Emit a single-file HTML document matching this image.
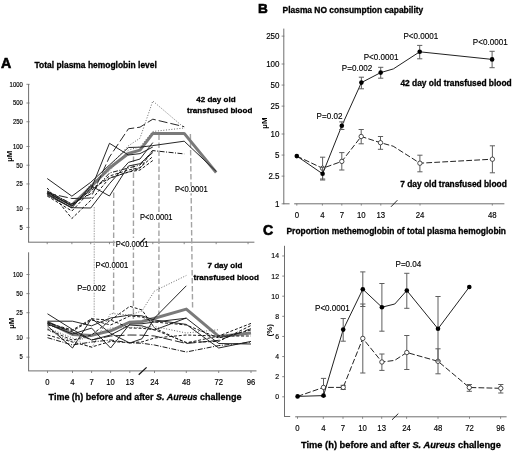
<!DOCTYPE html>
<html><head><meta charset="utf-8"><style>
html,body{margin:0;padding:0;background:#fff;}
svg{display:block;filter:blur(0.35px);}
text{font-family:"Liberation Sans",sans-serif;}
</style></head><body>
<svg width="520" height="453" viewBox="0 0 520 453">
<rect width="520" height="453" fill="#fff"/>
<text x="0.90" y="67.70" font-size="14.2" text-anchor="start" font-weight="bold" fill="#000"  stroke="#000" stroke-width="0.6">A</text>
<text x="34.60" y="67.60" font-size="8.45" text-anchor="start" font-weight="bold" fill="#000"  stroke="#000" stroke-width="0.3">Total plasma hemoglobin level</text>
<line x1="28.60" y1="84.00" x2="28.60" y2="242.20" stroke="#6e6e6e" stroke-width="1.0" />
<line x1="26.40" y1="84.30" x2="29.60" y2="84.30" stroke="#6e6e6e" stroke-width="0.8" />
<text x="0" y="0" transform="translate(22.70,86.65) scale(1,1.25)" font-size="5.9" text-anchor="end" font-weight="normal" fill="#000"  stroke="#000" stroke-width="0.14">1000</text>
<line x1="26.40" y1="103.02" x2="29.60" y2="103.02" stroke="#6e6e6e" stroke-width="0.8" />
<text x="0" y="0" transform="translate(22.70,105.37) scale(1,1.25)" font-size="5.9" text-anchor="end" font-weight="normal" fill="#000"  stroke="#000" stroke-width="0.14">500</text>
<line x1="26.40" y1="121.75" x2="29.60" y2="121.75" stroke="#6e6e6e" stroke-width="0.8" />
<text x="0" y="0" transform="translate(22.70,124.10) scale(1,1.25)" font-size="5.9" text-anchor="end" font-weight="normal" fill="#000"  stroke="#000" stroke-width="0.14">250</text>
<line x1="26.40" y1="146.50" x2="29.60" y2="146.50" stroke="#6e6e6e" stroke-width="0.8" />
<text x="0" y="0" transform="translate(22.70,148.85) scale(1,1.25)" font-size="5.9" text-anchor="end" font-weight="normal" fill="#000"  stroke="#000" stroke-width="0.14">100</text>
<line x1="26.40" y1="165.22" x2="29.60" y2="165.22" stroke="#6e6e6e" stroke-width="0.8" />
<text x="0" y="0" transform="translate(22.70,167.57) scale(1,1.25)" font-size="5.9" text-anchor="end" font-weight="normal" fill="#000"  stroke="#000" stroke-width="0.14">50</text>
<line x1="26.40" y1="183.95" x2="29.60" y2="183.95" stroke="#6e6e6e" stroke-width="0.8" />
<text x="0" y="0" transform="translate(22.70,186.30) scale(1,1.25)" font-size="5.9" text-anchor="end" font-weight="normal" fill="#000"  stroke="#000" stroke-width="0.14">25</text>
<line x1="26.40" y1="208.70" x2="29.60" y2="208.70" stroke="#6e6e6e" stroke-width="0.8" />
<text x="0" y="0" transform="translate(22.70,211.05) scale(1,1.25)" font-size="5.9" text-anchor="end" font-weight="normal" fill="#000"  stroke="#000" stroke-width="0.14">10</text>
<line x1="26.40" y1="227.42" x2="29.60" y2="227.42" stroke="#6e6e6e" stroke-width="0.8" />
<text x="0" y="0" transform="translate(22.70,229.77) scale(1,1.25)" font-size="5.9" text-anchor="end" font-weight="normal" fill="#000"  stroke="#000" stroke-width="0.14">5</text>
<line x1="28.10" y1="242.20" x2="254.40" y2="242.20" stroke="#6e6e6e" stroke-width="1.0" />
<line x1="47.20" y1="242.20" x2="47.20" y2="244.20" stroke="#6e6e6e" stroke-width="0.8" />
<line x1="71.88" y1="242.20" x2="71.88" y2="244.20" stroke="#6e6e6e" stroke-width="0.8" />
<line x1="90.73" y1="242.20" x2="90.73" y2="244.20" stroke="#6e6e6e" stroke-width="0.8" />
<line x1="109.48" y1="242.20" x2="109.48" y2="244.20" stroke="#6e6e6e" stroke-width="0.8" />
<line x1="128.43" y1="242.20" x2="128.43" y2="244.20" stroke="#6e6e6e" stroke-width="0.8" />
<line x1="152.81" y1="242.20" x2="152.81" y2="244.20" stroke="#6e6e6e" stroke-width="0.8" />
<line x1="184.20" y1="242.20" x2="184.20" y2="244.20" stroke="#6e6e6e" stroke-width="0.8" />
<line x1="216.17" y1="242.20" x2="216.17" y2="244.20" stroke="#6e6e6e" stroke-width="0.8" />
<line x1="248.05" y1="242.20" x2="248.05" y2="244.20" stroke="#6e6e6e" stroke-width="0.8" />
<line x1="28.60" y1="252.30" x2="28.60" y2="370.90" stroke="#6e6e6e" stroke-width="1.0" />
<line x1="26.40" y1="274.50" x2="29.60" y2="274.50" stroke="#6e6e6e" stroke-width="0.8" />
<text x="0" y="0" transform="translate(22.70,276.85) scale(1,1.25)" font-size="5.9" text-anchor="end" font-weight="normal" fill="#000"  stroke="#000" stroke-width="0.14">100</text>
<line x1="26.40" y1="293.62" x2="29.60" y2="293.62" stroke="#6e6e6e" stroke-width="0.8" />
<text x="0" y="0" transform="translate(22.70,295.97) scale(1,1.25)" font-size="5.9" text-anchor="end" font-weight="normal" fill="#000"  stroke="#000" stroke-width="0.14">50</text>
<line x1="26.40" y1="312.73" x2="29.60" y2="312.73" stroke="#6e6e6e" stroke-width="0.8" />
<text x="0" y="0" transform="translate(22.70,315.08) scale(1,1.25)" font-size="5.9" text-anchor="end" font-weight="normal" fill="#000"  stroke="#000" stroke-width="0.14">25</text>
<line x1="26.40" y1="338.00" x2="29.60" y2="338.00" stroke="#6e6e6e" stroke-width="0.8" />
<text x="0" y="0" transform="translate(22.70,340.35) scale(1,1.25)" font-size="5.9" text-anchor="end" font-weight="normal" fill="#000"  stroke="#000" stroke-width="0.14">10</text>
<line x1="26.40" y1="357.12" x2="29.60" y2="357.12" stroke="#6e6e6e" stroke-width="0.8" />
<text x="0" y="0" transform="translate(22.70,359.47) scale(1,1.25)" font-size="5.9" text-anchor="end" font-weight="normal" fill="#000"  stroke="#000" stroke-width="0.14">5</text>
<line x1="28.10" y1="370.90" x2="256.50" y2="370.90" stroke="#6e6e6e" stroke-width="1.0" />
<line x1="47.50" y1="370.90" x2="47.50" y2="373.00" stroke="#6e6e6e" stroke-width="0.8" />
<line x1="72.50" y1="370.90" x2="72.50" y2="373.00" stroke="#6e6e6e" stroke-width="0.8" />
<line x1="91.60" y1="370.90" x2="91.60" y2="373.00" stroke="#6e6e6e" stroke-width="0.8" />
<line x1="110.60" y1="370.90" x2="110.60" y2="373.00" stroke="#6e6e6e" stroke-width="0.8" />
<line x1="129.80" y1="370.90" x2="129.80" y2="373.00" stroke="#6e6e6e" stroke-width="0.8" />
<line x1="154.50" y1="370.90" x2="154.50" y2="373.00" stroke="#6e6e6e" stroke-width="0.8" />
<line x1="186.30" y1="370.90" x2="186.30" y2="373.00" stroke="#6e6e6e" stroke-width="0.8" />
<line x1="218.70" y1="370.90" x2="218.70" y2="373.00" stroke="#6e6e6e" stroke-width="0.8" />
<line x1="251.00" y1="370.90" x2="251.00" y2="373.00" stroke="#6e6e6e" stroke-width="0.8" />
<text x="0" y="0" transform="translate(47.50,384.80) scale(1,1.06)" font-size="7.7" text-anchor="middle" font-weight="normal" fill="#000"  stroke="#000" stroke-width="0.14">0</text>
<text x="0" y="0" transform="translate(72.50,384.80) scale(1,1.06)" font-size="7.7" text-anchor="middle" font-weight="normal" fill="#000"  stroke="#000" stroke-width="0.14">4</text>
<text x="0" y="0" transform="translate(91.60,384.80) scale(1,1.06)" font-size="7.7" text-anchor="middle" font-weight="normal" fill="#000"  stroke="#000" stroke-width="0.14">7</text>
<text x="0" y="0" transform="translate(110.60,384.80) scale(1,1.06)" font-size="7.7" text-anchor="middle" font-weight="normal" fill="#000"  stroke="#000" stroke-width="0.14">10</text>
<text x="0" y="0" transform="translate(129.80,384.80) scale(1,1.06)" font-size="7.7" text-anchor="middle" font-weight="normal" fill="#000"  stroke="#000" stroke-width="0.14">13</text>
<text x="0" y="0" transform="translate(154.50,384.80) scale(1,1.06)" font-size="7.7" text-anchor="middle" font-weight="normal" fill="#000"  stroke="#000" stroke-width="0.14">24</text>
<text x="0" y="0" transform="translate(186.30,384.80) scale(1,1.06)" font-size="7.7" text-anchor="middle" font-weight="normal" fill="#000"  stroke="#000" stroke-width="0.14">48</text>
<text x="0" y="0" transform="translate(218.70,384.80) scale(1,1.06)" font-size="7.7" text-anchor="middle" font-weight="normal" fill="#000"  stroke="#000" stroke-width="0.14">72</text>
<text x="0" y="0" transform="translate(251.00,384.80) scale(1,1.06)" font-size="7.7" text-anchor="middle" font-weight="normal" fill="#000"  stroke="#000" stroke-width="0.14">96</text>
<line x1="138.70" y1="374.80" x2="146.60" y2="367.40" stroke="#111" stroke-width="1.2" />
<text x="0" y="0" font-size="7.8" text-anchor="middle" font-weight="bold" fill="#000" transform="translate(12.20,156.20) rotate(-90)">&#181;M</text>
<text x="0" y="0" font-size="7.8" text-anchor="middle" font-weight="bold" fill="#000" transform="translate(14.20,323.20) rotate(-90)">&#181;M</text>
<text x="48.6" y="400.2" font-size="8.98" font-weight="bold" fill="#000" stroke="#000" stroke-width="0.3">Time (h) before and after <tspan font-style="italic">S. Aureus</tspan> challenge</text>
<line x1="94.30" y1="207.00" x2="94.20" y2="317.00" stroke="#b4b4b4" stroke-width="1.2" stroke-dasharray="1.6,1.0" />
<line x1="113.70" y1="192.60" x2="113.60" y2="313.40" stroke="#a3a3a3" stroke-width="1.4" stroke-dasharray="5.5,2.5" />
<line x1="133.50" y1="156.50" x2="133.40" y2="319.00" stroke="#a3a3a3" stroke-width="1.4" stroke-dasharray="5.5,2.5" />
<line x1="159.00" y1="134.40" x2="158.90" y2="315.00" stroke="#a3a3a3" stroke-width="1.4" stroke-dasharray="5.5,2.5" />
<line x1="190.40" y1="134.00" x2="192.60" y2="309.00" stroke="#a3a3a3" stroke-width="1.4" stroke-dasharray="5.5,2.5" />
<rect x="115.4" y="238.0" width="28.2" height="9.4" fill="#fff"/>
<rect x="76.6" y="284.3" width="29.4" height="7.6" fill="#fff"/>
<rect x="95.0" y="261.8" width="34.0" height="7.0" fill="#fff"/>
<rect x="139.3" y="214.2" width="33.6" height="7.0" fill="#fff"/>
<rect x="174.5" y="186.3" width="33.6" height="7.0" fill="#fff"/>
<text x="0" y="0" transform="translate(77.20,290.70) scale(1,1.14)" font-size="7.6" text-anchor="start" font-weight="normal" fill="#000"  stroke="#000" stroke-width="0.14">P=0.002</text>
<text x="0" y="0" transform="translate(95.60,267.90) scale(1,1.14)" font-size="7.6" text-anchor="start" font-weight="normal" fill="#000"  stroke="#000" stroke-width="0.14">P&lt;0.0001</text>
<text x="0" y="0" transform="translate(115.80,246.60) scale(1,1.14)" font-size="7.6" text-anchor="start" font-weight="normal" fill="#000"  stroke="#000" stroke-width="0.14">P&lt;0.0001</text>
<text x="0" y="0" transform="translate(139.90,220.20) scale(1,1.14)" font-size="7.6" text-anchor="start" font-weight="normal" fill="#000"  stroke="#000" stroke-width="0.14">P&lt;0.0001</text>
<line x1="139.60" y1="243.60" x2="145.10" y2="238.10" stroke="#111" stroke-width="1.2" />
<text x="0" y="0" transform="translate(175.00,192.40) scale(1,1.14)" font-size="7.6" text-anchor="start" font-weight="normal" fill="#000"  stroke="#000" stroke-width="0.14">P&lt;0.0001</text>
<text x="215.90" y="101.50" font-size="8.05" text-anchor="middle" font-weight="bold" fill="#000"  stroke="#000" stroke-width="0.3">42 day old</text>
<text x="219.70" y="113.10" font-size="8.05" text-anchor="middle" font-weight="bold" fill="#000"  stroke="#000" stroke-width="0.3">transfused blood</text>
<text x="224.90" y="268.10" font-size="8.05" text-anchor="middle" font-weight="bold" fill="#000"  stroke="#000" stroke-width="0.3">7 day old</text>
<text x="226.20" y="279.90" font-size="8.05" text-anchor="middle" font-weight="bold" fill="#000"  stroke="#000" stroke-width="0.3">transfused blood</text>
<polyline points="47.20,192.50 71.88,205.00 90.73,187.00 109.48,168.00 128.43,153.50 140.00,150.08 152.81,133.40 184.20,133.40 216.17,172.50" fill="none" stroke="#7a7a7a" stroke-width="3.0" stroke-linejoin="round" />
<polyline points="47.20,178.50 71.88,196.20 90.73,182.30 109.48,165.00 128.43,147.50 140.00,147.18 152.81,145.60 184.20,141.20 216.17,171.40" fill="none" stroke="#1a1a1a" stroke-width="0.95" stroke-linejoin="round" />
<polyline points="47.20,188.00 71.88,218.50 90.73,200.40 109.48,178.00 128.43,172.00 140.00,170.04 152.81,160.50" fill="none" stroke="#1a1a1a" stroke-width="1.0" stroke-dasharray="3,1.8" stroke-linejoin="round" />
<polyline points="47.20,193.00 71.88,198.50 90.73,198.00 109.48,157.00 128.43,128.80 140.00,127.17 152.81,119.20 184.20,126.70" fill="none" stroke="#1a1a1a" stroke-width="0.95" stroke-dasharray="9,3" stroke-linejoin="round" />
<polyline points="47.20,192.00 71.88,206.00 90.73,186.60 109.48,166.00 128.43,145.80 140.00,138.18 152.81,101.00 184.20,127.70" fill="none" stroke="#6a6a6a" stroke-width="1.0" stroke-dasharray="1,1.7" stroke-linejoin="round" />
<polyline points="47.20,194.00 71.88,207.00 90.73,184.40 109.48,171.00 128.43,150.00 140.00,146.85 152.81,131.50 184.20,128.00" fill="none" stroke="#6a6a6a" stroke-width="1.0" stroke-dasharray="1,1.7" stroke-linejoin="round" />
<polyline points="47.20,191.00 71.88,204.00 90.73,193.80 109.48,173.00 128.43,168.00 140.00,165.04 152.81,150.60 184.20,153.90" fill="none" stroke="#1a1a1a" stroke-width="1.0" stroke-dasharray="5,1.5,1,1.5" stroke-linejoin="round" />
<polyline points="47.20,192.00 71.88,206.00 90.73,190.00 109.48,143.30 128.43,155.00 140.00,153.64 152.81,147.00" fill="none" stroke="#1a1a1a" stroke-width="0.95" stroke-linejoin="round" />
<polyline points="47.20,195.00 71.88,208.00 90.73,185.60 109.48,196.00 128.43,166.00 140.00,163.71 152.81,152.50" fill="none" stroke="#1a1a1a" stroke-width="0.95" stroke-linejoin="round" />
<polyline points="47.20,194.00 71.88,207.70 90.73,208.00 109.48,183.70 128.43,162.40 140.00,159.03 152.81,142.60" fill="none" stroke="#1a1a1a" stroke-width="0.95" stroke-linejoin="round" />
<polyline points="47.20,196.00 71.88,211.00 90.73,191.00 109.48,176.00 128.43,170.00 140.00,167.71 152.81,156.50" fill="none" stroke="#1a1a1a" stroke-width="1.0" stroke-dasharray="3,1.8" stroke-linejoin="round" />
<polyline points="47.20,193.00 71.88,205.00 90.73,188.80 109.48,178.40 128.43,172.00 140.00,168.26 152.81,150.00" fill="none" stroke="#1a1a1a" stroke-width="1.0" stroke-dasharray="3,1.8" stroke-linejoin="round" />
<polyline points="47.50,322.40 72.50,334.40 91.60,335.40 110.60,330.80 129.80,322.20 142.00,321.52 154.50,318.20 186.30,309.10 218.70,336.40 251.00,333.00" fill="none" stroke="#7a7a7a" stroke-width="3.0" stroke-linejoin="round" />
<polyline points="47.50,313.80 72.50,329.50 91.60,340.00 110.60,335.00 129.80,325.00 142.00,325.85 154.50,330.00 186.30,318.00" fill="none" stroke="#1a1a1a" stroke-width="0.95" stroke-linejoin="round" />
<polyline points="47.50,321.20 72.50,321.20 91.60,325.80 110.60,318.00 129.80,315.00 142.00,315.85 154.50,320.00 186.30,324.40 218.70,348.00 251.00,341.40" fill="none" stroke="#1a1a1a" stroke-width="0.95" stroke-linejoin="round" />
<polyline points="47.50,323.00 72.50,330.00 91.60,318.80 110.60,320.20 129.80,306.30 142.00,309.99 154.50,328.00 186.30,343.00 218.70,336.00 251.00,323.40" fill="none" stroke="#1a1a1a" stroke-width="1.0" stroke-dasharray="3,1.8" stroke-linejoin="round" />
<polyline points="47.50,326.00 72.50,348.00 91.60,318.40 110.60,333.40 129.80,343.00 142.00,338.75 154.50,318.00 186.30,285.80" fill="none" stroke="#1a1a1a" stroke-width="0.95" stroke-linejoin="round" />
<polyline points="47.50,328.00 72.50,338.00 91.60,348.00 110.60,313.50 129.80,315.00 142.00,310.92 154.50,291.00 186.30,275.50" fill="none" stroke="#6a6a6a" stroke-width="1.0" stroke-dasharray="1,1.7" stroke-linejoin="round" />
<polyline points="47.50,329.30 72.50,340.20 91.60,335.00 110.60,320.00 129.80,328.00 142.00,328.29 154.50,329.70 186.30,342.40 218.70,341.40 251.00,325.50" fill="none" stroke="#1a1a1a" stroke-width="1.0" stroke-dasharray="3,1.8" stroke-linejoin="round" />
<polyline points="47.50,337.70 72.50,345.00 91.60,342.00 110.60,340.00 129.80,342.90 142.00,343.26 154.50,345.00 186.30,352.00 218.70,345.60 251.00,342.40" fill="none" stroke="#1a1a1a" stroke-width="1.0" stroke-dasharray="5,1.5,1,1.5" stroke-linejoin="round" />
<polyline points="47.50,322.00 72.50,332.00 91.60,340.00 110.60,336.00 129.80,335.00 142.00,335.17 154.50,336.00 186.30,343.50 218.70,340.30 251.00,328.70" fill="none" stroke="#1a1a1a" stroke-width="0.95" stroke-dasharray="9,3" stroke-linejoin="round" />
<polyline points="47.50,335.00 72.50,342.00 91.60,347.00 110.60,341.40 129.80,342.70 142.00,341.90 154.50,338.00 186.30,335.00 218.70,336.00 251.00,336.00" fill="none" stroke="#1a1a1a" stroke-width="1.0" stroke-dasharray="3,1.8" stroke-linejoin="round" />
<polyline points="47.50,330.00 72.50,342.00 91.60,336.00 110.60,328.00 129.80,327.50 142.00,327.33 154.50,326.50 186.30,333.00 218.70,329.70" fill="none" stroke="#6a6a6a" stroke-width="1.0" stroke-dasharray="1,1.7" stroke-linejoin="round" />
<polyline points="47.50,324.00 72.50,334.00 91.60,328.10 110.60,348.00 129.80,324.10 142.00,323.74 154.50,322.00 186.30,318.20 218.70,343.50 251.00,344.00" fill="none" stroke="#1a1a1a" stroke-width="0.95" stroke-linejoin="round" />
<polyline points="47.50,325.00 72.50,331.00 91.60,320.00 110.60,325.00 129.80,316.00 142.00,317.02 154.50,322.00 186.30,325.00 218.70,338.00 251.00,330.00" fill="none" stroke="#1a1a1a" stroke-width="1.0" stroke-dasharray="3,1.8" stroke-linejoin="round" />
<text x="258.00" y="12.60" font-size="13.6" text-anchor="start" font-weight="bold" fill="#000"  stroke="#000" stroke-width="0.6">B</text>
<text x="282.60" y="12.80" font-size="8.42" text-anchor="start" font-weight="bold" fill="#000"  stroke="#000" stroke-width="0.3">Plasma NO consumption capability</text>
<line x1="283.80" y1="28.60" x2="283.80" y2="203.80" stroke="#6e6e6e" stroke-width="1.0" />
<line x1="283.30" y1="203.80" x2="289.60" y2="203.80" stroke="#6e6e6e" stroke-width="1.0" />
<line x1="294.20" y1="203.80" x2="504.40" y2="203.80" stroke="#6e6e6e" stroke-width="1.0" />
<line x1="281.60" y1="36.14" x2="284.30" y2="36.14" stroke="#6e6e6e" stroke-width="0.8" />
<text x="0" y="0" transform="translate(279.50,38.94) scale(1,1.12)" font-size="8.0" text-anchor="end" font-weight="normal" fill="#000"  stroke="#000" stroke-width="0.14">250</text>
<line x1="281.60" y1="64.00" x2="284.30" y2="64.00" stroke="#6e6e6e" stroke-width="0.8" />
<text x="0" y="0" transform="translate(279.50,66.80) scale(1,1.12)" font-size="8.0" text-anchor="end" font-weight="normal" fill="#000"  stroke="#000" stroke-width="0.14">100</text>
<line x1="281.60" y1="85.07" x2="284.30" y2="85.07" stroke="#6e6e6e" stroke-width="0.8" />
<text x="0" y="0" transform="translate(279.50,87.87) scale(1,1.12)" font-size="8.0" text-anchor="end" font-weight="normal" fill="#000"  stroke="#000" stroke-width="0.14">50</text>
<line x1="281.60" y1="106.14" x2="284.30" y2="106.14" stroke="#6e6e6e" stroke-width="0.8" />
<text x="0" y="0" transform="translate(279.50,108.94) scale(1,1.12)" font-size="8.0" text-anchor="end" font-weight="normal" fill="#000"  stroke="#000" stroke-width="0.14">25</text>
<line x1="281.60" y1="134.00" x2="284.30" y2="134.00" stroke="#6e6e6e" stroke-width="0.8" />
<text x="0" y="0" transform="translate(279.50,136.80) scale(1,1.12)" font-size="8.0" text-anchor="end" font-weight="normal" fill="#000"  stroke="#000" stroke-width="0.14">10</text>
<line x1="281.60" y1="155.07" x2="284.30" y2="155.07" stroke="#6e6e6e" stroke-width="0.8" />
<text x="0" y="0" transform="translate(279.50,157.87) scale(1,1.12)" font-size="8.0" text-anchor="end" font-weight="normal" fill="#000"  stroke="#000" stroke-width="0.14">5</text>
<line x1="281.60" y1="176.14" x2="284.30" y2="176.14" stroke="#6e6e6e" stroke-width="0.8" />
<text x="0" y="0" transform="translate(279.50,178.94) scale(1,1.12)" font-size="8.0" text-anchor="end" font-weight="normal" fill="#000"  stroke="#000" stroke-width="0.14">2.5</text>
<line x1="281.60" y1="203.80" x2="284.30" y2="203.80" stroke="#6e6e6e" stroke-width="0.8" />
<text x="0" y="0" transform="translate(279.50,206.60) scale(1,1.12)" font-size="8.0" text-anchor="end" font-weight="normal" fill="#000"  stroke="#000" stroke-width="0.14">1</text>
<line x1="296.80" y1="203.80" x2="296.80" y2="205.60" stroke="#6e6e6e" stroke-width="0.8" />
<text x="0" y="0" transform="translate(296.80,217.60) scale(1,1.12)" font-size="7.8" text-anchor="middle" font-weight="normal" fill="#000"  stroke="#000" stroke-width="0.14">0</text>
<line x1="322.40" y1="203.80" x2="322.40" y2="205.60" stroke="#6e6e6e" stroke-width="0.8" />
<text x="0" y="0" transform="translate(322.40,217.60) scale(1,1.12)" font-size="7.8" text-anchor="middle" font-weight="normal" fill="#000"  stroke="#000" stroke-width="0.14">4</text>
<line x1="341.80" y1="203.80" x2="341.80" y2="205.60" stroke="#6e6e6e" stroke-width="0.8" />
<text x="0" y="0" transform="translate(341.80,217.60) scale(1,1.12)" font-size="7.8" text-anchor="middle" font-weight="normal" fill="#000"  stroke="#000" stroke-width="0.14">7</text>
<line x1="361.30" y1="203.80" x2="361.30" y2="205.60" stroke="#6e6e6e" stroke-width="0.8" />
<text x="0" y="0" transform="translate(361.30,217.60) scale(1,1.12)" font-size="7.8" text-anchor="middle" font-weight="normal" fill="#000"  stroke="#000" stroke-width="0.14">10</text>
<line x1="380.80" y1="203.80" x2="380.80" y2="205.60" stroke="#6e6e6e" stroke-width="0.8" />
<text x="0" y="0" transform="translate(380.80,217.60) scale(1,1.12)" font-size="7.8" text-anchor="middle" font-weight="normal" fill="#000"  stroke="#000" stroke-width="0.14">13</text>
<line x1="420.00" y1="203.80" x2="420.00" y2="205.60" stroke="#6e6e6e" stroke-width="0.8" />
<text x="0" y="0" transform="translate(420.00,217.60) scale(1,1.12)" font-size="7.8" text-anchor="middle" font-weight="normal" fill="#000"  stroke="#000" stroke-width="0.14">24</text>
<line x1="492.30" y1="203.80" x2="492.30" y2="205.60" stroke="#6e6e6e" stroke-width="0.8" />
<text x="0" y="0" transform="translate(492.30,217.60) scale(1,1.12)" font-size="7.8" text-anchor="middle" font-weight="normal" fill="#000"  stroke="#000" stroke-width="0.14">48</text>
<line x1="391.00" y1="206.80" x2="397.40" y2="200.20" stroke="#111" stroke-width="0.9" />
<text x="0" y="0" font-size="8.0" text-anchor="middle" font-weight="bold" fill="#000" transform="translate(267.40,123.00) rotate(-90)">&#181;M</text>
<polyline points="296.80,156.10 322.60,168.30 341.80,161.40 361.20,136.50 380.50,142.70 393.20,146.20 419.90,163.20 492.40,159.20" fill="none" stroke="#222" stroke-width="1.0" stroke-dasharray="5.8,2.2" stroke-linejoin="round" />
<line x1="322.60" y1="157.20" x2="322.60" y2="179.00" stroke="#5e5e5e" stroke-width="1.0" />
<line x1="320.00" y1="157.20" x2="325.20" y2="157.20" stroke="#5e5e5e" stroke-width="1.0" />
<line x1="320.00" y1="179.00" x2="325.20" y2="179.00" stroke="#5e5e5e" stroke-width="1.0" />
<line x1="341.80" y1="152.60" x2="341.80" y2="170.00" stroke="#5e5e5e" stroke-width="1.0" />
<line x1="339.20" y1="152.60" x2="344.40" y2="152.60" stroke="#5e5e5e" stroke-width="1.0" />
<line x1="339.20" y1="170.00" x2="344.40" y2="170.00" stroke="#5e5e5e" stroke-width="1.0" />
<line x1="361.20" y1="129.50" x2="361.20" y2="143.80" stroke="#5e5e5e" stroke-width="1.0" />
<line x1="358.60" y1="129.50" x2="363.80" y2="129.50" stroke="#5e5e5e" stroke-width="1.0" />
<line x1="358.60" y1="143.80" x2="363.80" y2="143.80" stroke="#5e5e5e" stroke-width="1.0" />
<line x1="380.50" y1="136.50" x2="380.50" y2="149.30" stroke="#5e5e5e" stroke-width="1.0" />
<line x1="377.90" y1="136.50" x2="383.10" y2="136.50" stroke="#5e5e5e" stroke-width="1.0" />
<line x1="377.90" y1="149.30" x2="383.10" y2="149.30" stroke="#5e5e5e" stroke-width="1.0" />
<line x1="419.90" y1="155.20" x2="419.90" y2="171.80" stroke="#5e5e5e" stroke-width="1.0" />
<line x1="417.30" y1="155.20" x2="422.50" y2="155.20" stroke="#5e5e5e" stroke-width="1.0" />
<line x1="417.30" y1="171.80" x2="422.50" y2="171.80" stroke="#5e5e5e" stroke-width="1.0" />
<line x1="492.40" y1="145.80" x2="492.40" y2="172.80" stroke="#5e5e5e" stroke-width="1.0" />
<line x1="489.80" y1="145.80" x2="495.00" y2="145.80" stroke="#5e5e5e" stroke-width="1.0" />
<line x1="489.80" y1="172.80" x2="495.00" y2="172.80" stroke="#5e5e5e" stroke-width="1.0" />
<circle cx="322.60" cy="168.30" r="2.2" fill="#fff" stroke="#222" stroke-width="0.8"/>
<circle cx="341.80" cy="161.40" r="2.2" fill="#fff" stroke="#222" stroke-width="0.8"/>
<circle cx="361.20" cy="136.50" r="2.2" fill="#fff" stroke="#222" stroke-width="0.8"/>
<circle cx="380.50" cy="142.70" r="2.2" fill="#fff" stroke="#222" stroke-width="0.8"/>
<circle cx="419.90" cy="163.20" r="2.2" fill="#fff" stroke="#222" stroke-width="0.8"/>
<circle cx="492.40" cy="159.20" r="2.2" fill="#fff" stroke="#222" stroke-width="0.8"/>
<polyline points="296.80,156.10 322.60,173.80 341.80,125.80 361.40,82.60 380.70,72.60 393.40,68.90 419.70,51.80 492.10,59.40" fill="none" stroke="#222" stroke-width="1.0" stroke-linejoin="round" />
<line x1="322.60" y1="167.60" x2="322.60" y2="180.00" stroke="#5e5e5e" stroke-width="1.0" />
<line x1="320.00" y1="167.60" x2="325.20" y2="167.60" stroke="#5e5e5e" stroke-width="1.0" />
<line x1="320.00" y1="180.00" x2="325.20" y2="180.00" stroke="#5e5e5e" stroke-width="1.0" />
<line x1="341.80" y1="121.90" x2="341.80" y2="129.50" stroke="#5e5e5e" stroke-width="1.0" />
<line x1="339.20" y1="121.90" x2="344.40" y2="121.90" stroke="#5e5e5e" stroke-width="1.0" />
<line x1="339.20" y1="129.50" x2="344.40" y2="129.50" stroke="#5e5e5e" stroke-width="1.0" />
<line x1="361.40" y1="77.20" x2="361.40" y2="88.80" stroke="#5e5e5e" stroke-width="1.0" />
<line x1="358.80" y1="77.20" x2="364.00" y2="77.20" stroke="#5e5e5e" stroke-width="1.0" />
<line x1="358.80" y1="88.80" x2="364.00" y2="88.80" stroke="#5e5e5e" stroke-width="1.0" />
<line x1="380.70" y1="67.30" x2="380.70" y2="78.20" stroke="#5e5e5e" stroke-width="1.0" />
<line x1="378.10" y1="67.30" x2="383.30" y2="67.30" stroke="#5e5e5e" stroke-width="1.0" />
<line x1="378.10" y1="78.20" x2="383.30" y2="78.20" stroke="#5e5e5e" stroke-width="1.0" />
<line x1="419.70" y1="45.40" x2="419.70" y2="58.80" stroke="#5e5e5e" stroke-width="1.0" />
<line x1="417.10" y1="45.40" x2="422.30" y2="45.40" stroke="#5e5e5e" stroke-width="1.0" />
<line x1="417.10" y1="58.80" x2="422.30" y2="58.80" stroke="#5e5e5e" stroke-width="1.0" />
<line x1="492.10" y1="51.30" x2="492.10" y2="67.70" stroke="#5e5e5e" stroke-width="1.0" />
<line x1="489.50" y1="51.30" x2="494.70" y2="51.30" stroke="#5e5e5e" stroke-width="1.0" />
<line x1="489.50" y1="67.70" x2="494.70" y2="67.70" stroke="#5e5e5e" stroke-width="1.0" />
<circle cx="296.80" cy="156.10" r="2.3" fill="#000"/>
<circle cx="322.60" cy="173.80" r="2.3" fill="#000"/>
<circle cx="341.80" cy="125.80" r="2.3" fill="#000"/>
<circle cx="361.40" cy="82.60" r="2.3" fill="#000"/>
<circle cx="380.70" cy="72.60" r="2.3" fill="#000"/>
<circle cx="419.70" cy="51.80" r="2.3" fill="#000"/>
<circle cx="492.10" cy="59.40" r="2.3" fill="#000"/>
<text x="0" y="0" transform="translate(316.60,118.60) scale(1,1.12)" font-size="8.1" text-anchor="start" font-weight="normal" fill="#000"  stroke="#000" stroke-width="0.14">P=0.02</text>
<text x="0" y="0" transform="translate(341.80,71.40) scale(1,1.12)" font-size="8.1" text-anchor="start" font-weight="normal" fill="#000"  stroke="#000" stroke-width="0.14">P=0.002</text>
<text x="0" y="0" transform="translate(363.70,59.80) scale(1,1.12)" font-size="8.1" text-anchor="start" font-weight="normal" fill="#000"  stroke="#000" stroke-width="0.14">P&lt;0.0001</text>
<text x="0" y="0" transform="translate(403.40,38.60) scale(1,1.12)" font-size="8.1" text-anchor="start" font-weight="normal" fill="#000"  stroke="#000" stroke-width="0.14">P&lt;0.0001</text>
<text x="0" y="0" transform="translate(472.80,45.40) scale(1,1.12)" font-size="8.1" text-anchor="start" font-weight="normal" fill="#000"  stroke="#000" stroke-width="0.14">P&lt;0.0001</text>
<text x="456.00" y="86.00" font-size="8.4" text-anchor="middle" font-weight="bold" fill="#000"  stroke="#000" stroke-width="0.3">42 day old transfused blood</text>
<text x="453.50" y="186.90" font-size="8.4" text-anchor="middle" font-weight="bold" fill="#000"  stroke="#000" stroke-width="0.3">7 day old transfused blood</text>
<text x="262.90" y="234.70" font-size="14.2" text-anchor="start" font-weight="bold" fill="#000"  stroke="#000" stroke-width="0.6">C</text>
<text x="286.50" y="234.00" font-size="8.42" text-anchor="start" font-weight="bold" fill="#000"  stroke="#000" stroke-width="0.3">Proportion methemoglobin of total plasma hemoglobin</text>
<line x1="284.50" y1="245.80" x2="284.50" y2="416.50" stroke="#6e6e6e" stroke-width="1.0" />
<line x1="284.00" y1="416.50" x2="290.20" y2="416.50" stroke="#6e6e6e" stroke-width="1.0" />
<line x1="295.20" y1="416.80" x2="506.60" y2="416.80" stroke="#6e6e6e" stroke-width="1.0" />
<line x1="282.20" y1="396.80" x2="284.90" y2="396.80" stroke="#6e6e6e" stroke-width="0.8" />
<text x="0" y="0" transform="translate(279.00,399.25) scale(1,1.04)" font-size="6.9" text-anchor="end" font-weight="normal" fill="#000"  stroke="#000" stroke-width="0.14">0</text>
<line x1="282.20" y1="376.68" x2="284.90" y2="376.68" stroke="#6e6e6e" stroke-width="0.8" />
<text x="0" y="0" transform="translate(279.00,379.13) scale(1,1.04)" font-size="6.9" text-anchor="end" font-weight="normal" fill="#000"  stroke="#000" stroke-width="0.14">2</text>
<line x1="282.20" y1="356.56" x2="284.90" y2="356.56" stroke="#6e6e6e" stroke-width="0.8" />
<text x="0" y="0" transform="translate(279.00,359.01) scale(1,1.04)" font-size="6.9" text-anchor="end" font-weight="normal" fill="#000"  stroke="#000" stroke-width="0.14">4</text>
<line x1="282.20" y1="336.44" x2="284.90" y2="336.44" stroke="#6e6e6e" stroke-width="0.8" />
<text x="0" y="0" transform="translate(279.00,338.89) scale(1,1.04)" font-size="6.9" text-anchor="end" font-weight="normal" fill="#000"  stroke="#000" stroke-width="0.14">6</text>
<line x1="282.20" y1="316.32" x2="284.90" y2="316.32" stroke="#6e6e6e" stroke-width="0.8" />
<text x="0" y="0" transform="translate(279.00,318.77) scale(1,1.04)" font-size="6.9" text-anchor="end" font-weight="normal" fill="#000"  stroke="#000" stroke-width="0.14">8</text>
<line x1="282.20" y1="296.20" x2="284.90" y2="296.20" stroke="#6e6e6e" stroke-width="0.8" />
<text x="0" y="0" transform="translate(279.00,298.65) scale(1,1.04)" font-size="6.9" text-anchor="end" font-weight="normal" fill="#000"  stroke="#000" stroke-width="0.14">10</text>
<line x1="282.20" y1="276.08" x2="284.90" y2="276.08" stroke="#6e6e6e" stroke-width="0.8" />
<text x="0" y="0" transform="translate(279.00,278.53) scale(1,1.04)" font-size="6.9" text-anchor="end" font-weight="normal" fill="#000"  stroke="#000" stroke-width="0.14">12</text>
<line x1="282.20" y1="255.96" x2="284.90" y2="255.96" stroke="#6e6e6e" stroke-width="0.8" />
<text x="0" y="0" transform="translate(279.00,258.41) scale(1,1.04)" font-size="6.9" text-anchor="end" font-weight="normal" fill="#000"  stroke="#000" stroke-width="0.14">14</text>
<line x1="297.50" y1="416.80" x2="297.50" y2="418.80" stroke="#6e6e6e" stroke-width="0.8" />
<text x="0" y="0" transform="translate(297.50,431.00) scale(1,1.12)" font-size="7.8" text-anchor="middle" font-weight="normal" fill="#000"  stroke="#000" stroke-width="0.14">0</text>
<line x1="323.30" y1="416.80" x2="323.30" y2="418.80" stroke="#6e6e6e" stroke-width="0.8" />
<text x="0" y="0" transform="translate(323.30,431.00) scale(1,1.12)" font-size="7.8" text-anchor="middle" font-weight="normal" fill="#000"  stroke="#000" stroke-width="0.14">4</text>
<line x1="343.00" y1="416.80" x2="343.00" y2="418.80" stroke="#6e6e6e" stroke-width="0.8" />
<text x="0" y="0" transform="translate(343.00,431.00) scale(1,1.12)" font-size="7.8" text-anchor="middle" font-weight="normal" fill="#000"  stroke="#000" stroke-width="0.14">7</text>
<line x1="362.60" y1="416.80" x2="362.60" y2="418.80" stroke="#6e6e6e" stroke-width="0.8" />
<text x="0" y="0" transform="translate(362.60,431.00) scale(1,1.12)" font-size="7.8" text-anchor="middle" font-weight="normal" fill="#000"  stroke="#000" stroke-width="0.14">10</text>
<line x1="381.70" y1="416.80" x2="381.70" y2="418.80" stroke="#6e6e6e" stroke-width="0.8" />
<text x="0" y="0" transform="translate(381.70,431.00) scale(1,1.12)" font-size="7.8" text-anchor="middle" font-weight="normal" fill="#000"  stroke="#000" stroke-width="0.14">13</text>
<line x1="406.60" y1="416.80" x2="406.60" y2="418.80" stroke="#6e6e6e" stroke-width="0.8" />
<text x="0" y="0" transform="translate(406.60,431.00) scale(1,1.12)" font-size="7.8" text-anchor="middle" font-weight="normal" fill="#000"  stroke="#000" stroke-width="0.14">24</text>
<line x1="438.00" y1="416.80" x2="438.00" y2="418.80" stroke="#6e6e6e" stroke-width="0.8" />
<text x="0" y="0" transform="translate(438.00,431.00) scale(1,1.12)" font-size="7.8" text-anchor="middle" font-weight="normal" fill="#000"  stroke="#000" stroke-width="0.14">48</text>
<line x1="469.50" y1="416.80" x2="469.50" y2="418.80" stroke="#6e6e6e" stroke-width="0.8" />
<text x="0" y="0" transform="translate(469.50,431.00) scale(1,1.12)" font-size="7.8" text-anchor="middle" font-weight="normal" fill="#000"  stroke="#000" stroke-width="0.14">72</text>
<line x1="500.60" y1="416.80" x2="500.60" y2="418.80" stroke="#6e6e6e" stroke-width="0.8" />
<text x="0" y="0" transform="translate(500.60,431.00) scale(1,1.12)" font-size="7.8" text-anchor="middle" font-weight="normal" fill="#000"  stroke="#000" stroke-width="0.14">96</text>
<line x1="392.00" y1="419.80" x2="398.30" y2="413.60" stroke="#111" stroke-width="0.9" />
<text x="0" y="0" font-size="8.0" text-anchor="middle" font-weight="bold" fill="#000" transform="translate(272.20,330.30) rotate(-90)">(%)</text>
<text x="301.0" y="447.7" font-size="9.3" font-weight="bold" fill="#000" stroke="#000" stroke-width="0.3">Time (h) before and after <tspan font-style="italic">S. Aureus</tspan> challenge</text>
<polyline points="297.60,396.40 323.50,387.40 343.20,387.40 362.80,338.40 381.90,362.00 394.60,360.40 406.80,352.50 438.00,361.30 469.30,387.50 500.80,388.30" fill="none" stroke="#222" stroke-width="1.0" stroke-dasharray="5.8,2.2" stroke-linejoin="round" />
<line x1="323.50" y1="378.40" x2="323.50" y2="396.40" stroke="#5e5e5e" stroke-width="1.0" />
<line x1="320.90" y1="378.40" x2="326.10" y2="378.40" stroke="#5e5e5e" stroke-width="1.0" />
<line x1="320.90" y1="396.40" x2="326.10" y2="396.40" stroke="#5e5e5e" stroke-width="1.0" />
<line x1="343.20" y1="385.30" x2="343.20" y2="389.50" stroke="#5e5e5e" stroke-width="1.0" />
<line x1="340.60" y1="385.30" x2="345.80" y2="385.30" stroke="#5e5e5e" stroke-width="1.0" />
<line x1="340.60" y1="389.50" x2="345.80" y2="389.50" stroke="#5e5e5e" stroke-width="1.0" />
<line x1="362.80" y1="304.00" x2="362.80" y2="373.00" stroke="#5e5e5e" stroke-width="1.0" />
<line x1="360.20" y1="304.00" x2="365.40" y2="304.00" stroke="#5e5e5e" stroke-width="1.0" />
<line x1="360.20" y1="373.00" x2="365.40" y2="373.00" stroke="#5e5e5e" stroke-width="1.0" />
<line x1="381.90" y1="354.00" x2="381.90" y2="370.40" stroke="#5e5e5e" stroke-width="1.0" />
<line x1="379.30" y1="354.00" x2="384.50" y2="354.00" stroke="#5e5e5e" stroke-width="1.0" />
<line x1="379.30" y1="370.40" x2="384.50" y2="370.40" stroke="#5e5e5e" stroke-width="1.0" />
<line x1="406.80" y1="335.50" x2="406.80" y2="369.50" stroke="#5e5e5e" stroke-width="1.0" />
<line x1="404.20" y1="335.50" x2="409.40" y2="335.50" stroke="#5e5e5e" stroke-width="1.0" />
<line x1="404.20" y1="369.50" x2="409.40" y2="369.50" stroke="#5e5e5e" stroke-width="1.0" />
<line x1="438.00" y1="348.80" x2="438.00" y2="373.80" stroke="#5e5e5e" stroke-width="1.0" />
<line x1="435.40" y1="348.80" x2="440.60" y2="348.80" stroke="#5e5e5e" stroke-width="1.0" />
<line x1="435.40" y1="373.80" x2="440.60" y2="373.80" stroke="#5e5e5e" stroke-width="1.0" />
<line x1="469.30" y1="384.50" x2="469.30" y2="391.30" stroke="#5e5e5e" stroke-width="1.0" />
<line x1="466.70" y1="384.50" x2="471.90" y2="384.50" stroke="#5e5e5e" stroke-width="1.0" />
<line x1="466.70" y1="391.30" x2="471.90" y2="391.30" stroke="#5e5e5e" stroke-width="1.0" />
<line x1="500.80" y1="384.50" x2="500.80" y2="393.00" stroke="#5e5e5e" stroke-width="1.0" />
<line x1="498.20" y1="384.50" x2="503.40" y2="384.50" stroke="#5e5e5e" stroke-width="1.0" />
<line x1="498.20" y1="393.00" x2="503.40" y2="393.00" stroke="#5e5e5e" stroke-width="1.0" />
<circle cx="323.50" cy="387.40" r="2.2" fill="#fff" stroke="#222" stroke-width="0.8"/>
<circle cx="343.20" cy="387.40" r="2.2" fill="#fff" stroke="#222" stroke-width="0.8"/>
<circle cx="362.80" cy="338.40" r="2.2" fill="#fff" stroke="#222" stroke-width="0.8"/>
<circle cx="381.90" cy="362.00" r="2.2" fill="#fff" stroke="#222" stroke-width="0.8"/>
<circle cx="406.80" cy="352.50" r="2.2" fill="#fff" stroke="#222" stroke-width="0.8"/>
<circle cx="438.00" cy="361.30" r="2.2" fill="#fff" stroke="#222" stroke-width="0.8"/>
<circle cx="469.30" cy="387.50" r="2.2" fill="#fff" stroke="#222" stroke-width="0.8"/>
<circle cx="500.80" cy="388.30" r="2.2" fill="#fff" stroke="#222" stroke-width="0.8"/>
<polyline points="297.60,396.40 323.50,395.60 343.20,329.60 362.80,289.20 381.90,307.20 394.80,304.00 406.80,290.50 438.00,328.80 469.30,287.00" fill="none" stroke="#222" stroke-width="1.0" stroke-linejoin="round" />
<line x1="343.20" y1="318.50" x2="343.20" y2="341.20" stroke="#5e5e5e" stroke-width="1.0" />
<line x1="340.60" y1="318.50" x2="345.80" y2="318.50" stroke="#5e5e5e" stroke-width="1.0" />
<line x1="340.60" y1="341.20" x2="345.80" y2="341.20" stroke="#5e5e5e" stroke-width="1.0" />
<line x1="362.80" y1="271.90" x2="362.80" y2="306.50" stroke="#5e5e5e" stroke-width="1.0" />
<line x1="360.20" y1="271.90" x2="365.40" y2="271.90" stroke="#5e5e5e" stroke-width="1.0" />
<line x1="360.20" y1="306.50" x2="365.40" y2="306.50" stroke="#5e5e5e" stroke-width="1.0" />
<line x1="381.90" y1="283.50" x2="381.90" y2="331.20" stroke="#5e5e5e" stroke-width="1.0" />
<line x1="379.30" y1="283.50" x2="384.50" y2="283.50" stroke="#5e5e5e" stroke-width="1.0" />
<line x1="379.30" y1="331.20" x2="384.50" y2="331.20" stroke="#5e5e5e" stroke-width="1.0" />
<line x1="406.80" y1="273.30" x2="406.80" y2="308.30" stroke="#5e5e5e" stroke-width="1.0" />
<line x1="404.20" y1="273.30" x2="409.40" y2="273.30" stroke="#5e5e5e" stroke-width="1.0" />
<line x1="404.20" y1="308.30" x2="409.40" y2="308.30" stroke="#5e5e5e" stroke-width="1.0" />
<line x1="438.00" y1="296.50" x2="438.00" y2="361.00" stroke="#5e5e5e" stroke-width="1.0" />
<line x1="435.40" y1="296.50" x2="440.60" y2="296.50" stroke="#5e5e5e" stroke-width="1.0" />
<line x1="435.40" y1="361.00" x2="440.60" y2="361.00" stroke="#5e5e5e" stroke-width="1.0" />
<circle cx="297.60" cy="396.40" r="2.3" fill="#000"/>
<circle cx="323.50" cy="395.60" r="2.3" fill="#000"/>
<circle cx="343.20" cy="329.60" r="2.3" fill="#000"/>
<circle cx="362.80" cy="289.20" r="2.3" fill="#000"/>
<circle cx="381.90" cy="307.20" r="2.3" fill="#000"/>
<circle cx="406.80" cy="290.50" r="2.3" fill="#000"/>
<circle cx="438.00" cy="328.80" r="2.3" fill="#000"/>
<circle cx="469.30" cy="287.00" r="2.3" fill="#000"/>
<text x="0" y="0" transform="translate(315.00,310.60) scale(1,1.12)" font-size="8.1" text-anchor="start" font-weight="normal" fill="#000"  stroke="#000" stroke-width="0.14">P&lt;0.0001</text>
<text x="0" y="0" transform="translate(395.50,266.70) scale(1,1.12)" font-size="8.1" text-anchor="start" font-weight="normal" fill="#000"  stroke="#000" stroke-width="0.14">P=0.04</text>
</svg></body></html>
